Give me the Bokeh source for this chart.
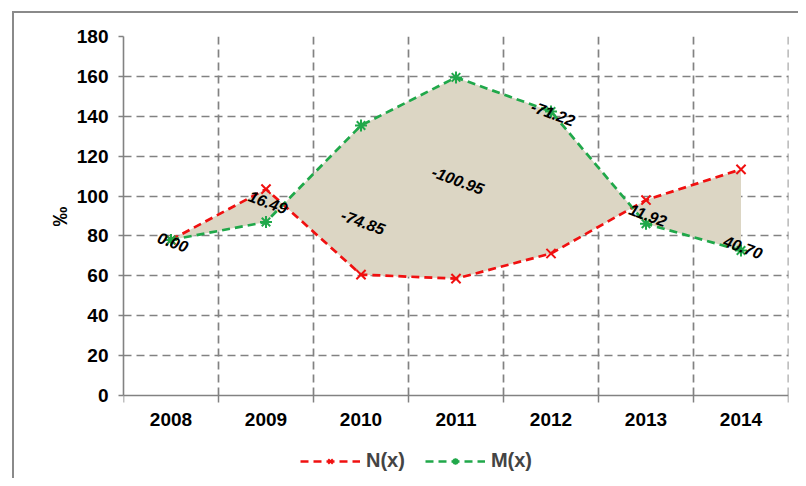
import numpy as np
from bokeh.plotting import figure
from bokeh.models import (FixedTicker, Legend, LegendItem, ColumnDataSource, Range1d, Span,
                          Title)
from bokeh.embed import file_html
from bokeh.resources import INLINE

# ---- data ----
years = ["2008", "2009", "2010", "2011", "2012", "2013", "2014"]
n_vals = [78.0, 103.5, 60.6, 58.6, 71.2, 98.0, 113.4]
m_vals = [78.0, 87.0, 135.4, 159.5, 142.4, 86.1, 72.7]
diff_labels = ["0.00", "16.49", "-74.85", "-100.95", "-71.22", "11.92", "40.70"]
label_anchor = [77.0, 97.0, 87.0, 108.0, 141.5, 90.5, 74.5]
y_ticks = [0, 20, 40, 60, 80, 100, 120, 140, 160, 180]

xc = np.arange(len(years)) + 0.5
bounds = list(np.arange(len(years) + 1).astype(float))

FONT = "Liberation Sans"
RED = "#F01010"
GREEN = "#20A84A"
GRID = "#828282"

PLOT_H = 359                      # pixel height of the 0..180 area
EXTRA = 83                        # pixels below the zero line (x labels + legend)
px_per = PLOT_H / (y_ticks[-1] - y_ticks[0])
y_lo = -EXTRA / px_per

p = figure(frame_width=665, frame_height=PLOT_H + EXTRA, output_backend="svg",
           toolbar_location=None, x_axis_location=None,
           x_range=Range1d(0, len(years)), y_range=Range1d(y_lo, y_ticks[-1]),
           min_border_left=109, min_border_right=10, min_border_top=23,
           min_border_bottom=0)
p.styles = {"margin-left": "12px", "margin-top": "11px",
            "border-left": "2px solid #8A8A8A", "border-top": "2px solid #8A8A8A"}
p.outline_line_color = None

# horizontal grid
p.xgrid.visible = False
p.ygrid.ticker = FixedTicker(ticks=y_ticks[1:])
p.ygrid.grid_line_color = GRID
p.ygrid.grid_line_width = 1.7
p.ygrid.grid_line_dash = "8 5"

# vertical grid at category boundaries (0..180 only)
p.segment(x0=bounds[1:], x1=bounds[1:], y0=y_ticks[0], y1=y_ticks[-1],
          line_color=GRID, line_width=1.7, line_dash="8 5")
# x axis line + boundary ticks
p.add_layout(Span(location=0, dimension="width", line_color=GRID, line_width=1.6))
p.segment(x0=bounds, x1=bounds, y0=0, y1=-7 / px_per, line_color=GRID, line_width=1.5)
# x labels
p.text(x=xc, y=[0] * len(years), text=years, y_offset=24,
       text_font={"value": FONT}, text_font_style="bold", text_font_size="19px",
       text_color="black", text_align="center", text_baseline="middle")

# y axis
p.yaxis.ticker = FixedTicker(ticks=y_ticks)
p.yaxis.bounds = (y_ticks[0], y_ticks[-1])
p.yaxis.minor_tick_line_color = None
p.yaxis.major_tick_out = 5
p.yaxis.major_tick_in = 0
p.yaxis.major_tick_line_color = GRID
p.yaxis.axis_line_color = GRID
p.yaxis.axis_line_width = 1.6
p.yaxis.major_tick_line_width = 1.5
p.yaxis.major_label_text_font = FONT
p.yaxis.major_label_text_font_style = "bold"
p.yaxis.major_label_text_font_size = "19px"
p.yaxis.major_label_text_color = "black"
p.yaxis.major_label_standoff = 10

ytitle = Title(text="‰", align="left", offset=252, standoff=6,
               text_font=FONT, text_font_style="bold", text_font_size="20px",
               text_color="black")
p.add_layout(ytitle, "left")

# fill between series
p.varea(x=xc, y1=n_vals, y2=m_vals, fill_color="#DCD6C4")

# lines
src = ColumnDataSource(dict(x=xc, n=n_vals, m=m_vals))
ln = p.line("x", "n", source=src, line_color=RED, line_width=2.7, line_dash="8 5")
mn = p.scatter("x", "n", source=src, marker="x", size=13, line_color=RED, line_width=2)
lm = p.line("x", "m", source=src, line_color=GREEN, line_width=2.7, line_dash="8 5")
mm = p.scatter("x", "m", source=src, marker="asterisk", size=12, line_color=GREEN, line_width=2)

# difference labels
p.text(x=xc, y=label_anchor, text=diff_labels, angle=-0.35, x_offset=2,
       text_font={"value": FONT}, text_font_style="bold italic",
       text_font_size="16px", text_color="black",
       text_align="center", text_baseline="middle")

legend = Legend(items=[LegendItem(label="N(x)", renderers=[ln, mn]),
                       LegendItem(label="M(x)", renderers=[lm, mm])],
                orientation="horizontal", location=(177, 6),
                glyph_width=60, glyph_height=16, label_standoff=6, spacing=20,
                label_text_font=FONT, label_text_font_style="bold",
                label_text_font_size="20px", border_line_color=None,
                background_fill_alpha=0, padding=2, margin=0)
p.add_layout(legend, "center")

open("out.html", "w").write(file_html(p, INLINE))
